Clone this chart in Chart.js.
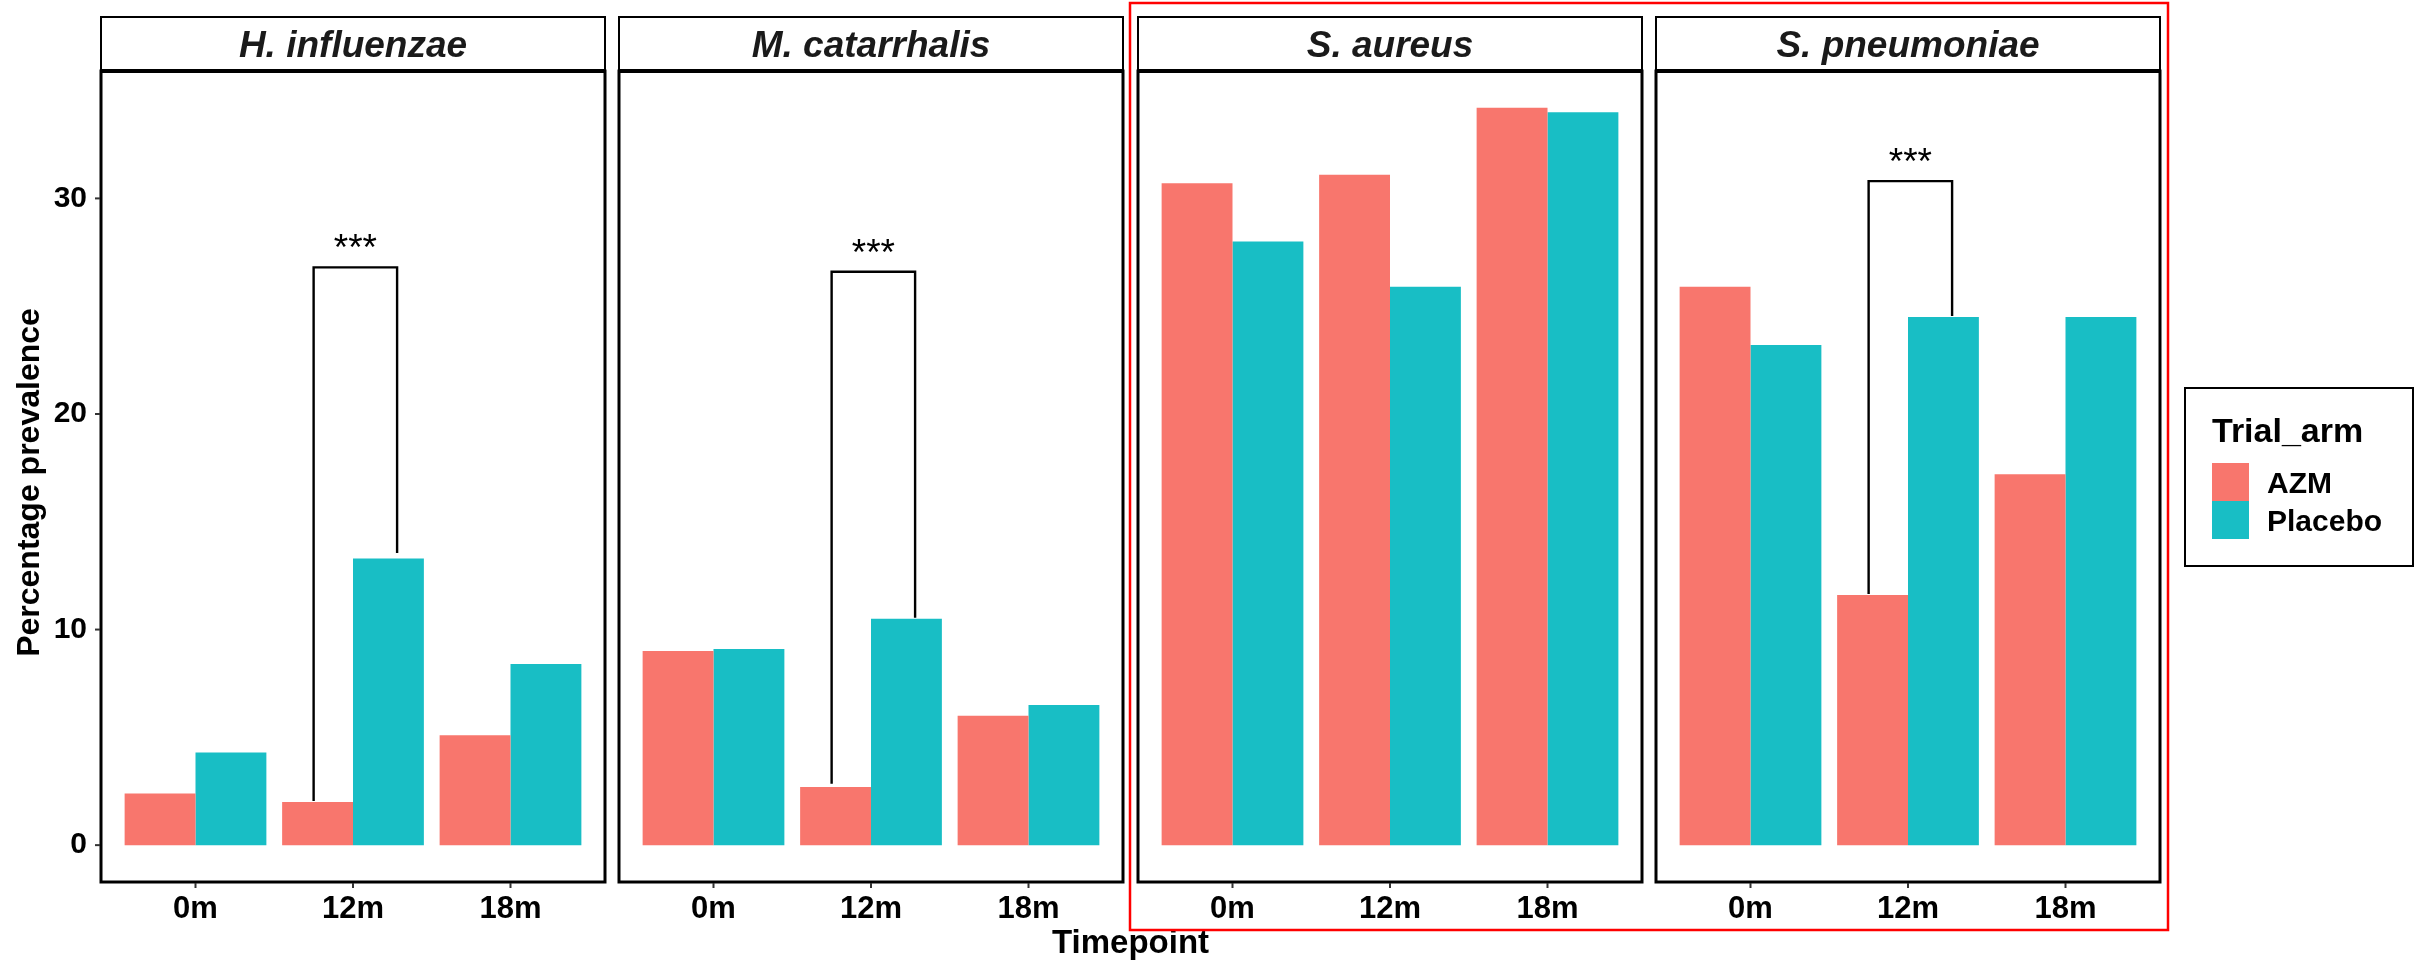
<!DOCTYPE html>
<html><head><meta charset="utf-8">
<script src="https://cdn.jsdelivr.net/npm/chart.js@4.4.1/dist/chart.umd.min.js"></script>
<style>
html,body{margin:0;padding:0;background:#fff;}
#wrap{position:relative;width:2420px;height:962px;overflow:hidden;background:#fff;}
#wrap canvas{position:absolute;left:0;top:0;}
</style></head><body>
<div id="wrap">
<canvas id="c0" width="2420" height="962"></canvas>
<canvas id="c1" width="2420" height="962"></canvas>
<canvas id="c2" width="2420" height="962"></canvas>
<canvas id="c3" width="2420" height="962"></canvas>
</div>
<script>
// ---- data ----
const timepoints = ['0m', '12m', '18m'];
const species = ['H. influenzae', 'M. catarrhalis', 'S. aureus', 'S. pneumoniae'];
const armLabels = ['AZM', 'Placebo'];
const yTickValues = [0, 10, 20, 30];

const azmHinf = [2.4, 2.0, 5.1];
const placeboHinf = [4.3, 13.3, 8.4];
const azmMcat = [9.0, 2.7, 6.0];
const placeboMcat = [9.1, 10.5, 6.5];
const azmSaur = [30.7, 31.1, 34.2];
const placeboSaur = [28.0, 25.9, 34.0];
const azmSpn = [25.9, 11.6, 17.2];
const placeboSpn = [23.2, 24.5, 24.5];

// significance brackets (per panel, null = none)
const sigLabel = '***';
const sigTop = [26.8, 26.6, null, 30.8];
const sigLeftEnd = [2.05, 2.85, null, 11.65];
const sigRightEnd = [13.55, 10.55, null, 24.55];
const sigFrom = 1.75;
const sigTo = 2.28;

// ---- styling / layout ----
const FONT = "'Liberation Sans', Arial, Helvetica, sans-serif";
const AZM_COLOR = '#F8766D';
const PLACEBO_COLOR = '#18BEC5';
const PANEL_LEFT = [101, 619, 1138, 1656];
const PANEL_W = 504;
const PLOT_TOP = 71, PLOT_BOTTOM = 882, STRIP_TOP = 17;
const W = 2420, H = 962;

const azmSeries = [azmHinf, azmMcat, azmSaur, azmSpn];
const placeboSeries = [placeboHinf, placeboMcat, placeboSaur, placeboSpn];
const dataMax = Math.max(...azmSeries.flat(), ...placeboSeries.flat());
const yPad = dataMax * 0.05;

function panelPlugin(i) {
  return {
    id: 'panel' + i,
    afterDatasetsDraw(chart) {
      const ctx = chart.ctx;
      if (sigTop[i] == null) return;
      const xs = chart.scales.x, ys = chart.scales.y;
      const x1 = xs.getPixelForValue(sigFrom), x2 = xs.getPixelForValue(sigTo);
      const yt = ys.getPixelForValue(sigTop[i]);
      const yl = ys.getPixelForValue(sigLeftEnd[i]);
      const yr = ys.getPixelForValue(sigRightEnd[i]);
      ctx.save();
      ctx.strokeStyle = '#000';
      ctx.lineWidth = 2.4;
      ctx.lineJoin = 'miter';
      ctx.beginPath();
      ctx.moveTo(x1, yl); ctx.lineTo(x1, yt); ctx.lineTo(x2, yt); ctx.lineTo(x2, yr);
      ctx.stroke();
      ctx.fillStyle = '#000';
      ctx.font = '37px ' + FONT;
      ctx.textAlign = 'center';
      ctx.textBaseline = 'alphabetic';
      ctx.fillText(sigLabel, (x1 + x2) / 2, yt - 7);
      ctx.restore();
    },
    afterDraw(chart) {
      const ctx = chart.ctx;
      const a = chart.chartArea;
      ctx.save();
      ctx.strokeStyle = '#000';
      // strip
      ctx.lineWidth = 2;
      ctx.strokeRect(a.left, STRIP_TOP, a.right - a.left, a.top - STRIP_TOP);
      ctx.fillStyle = '#1a1a1a';
      ctx.font = 'italic bold 37px ' + FONT;
      ctx.textAlign = 'center';
      ctx.textBaseline = 'alphabetic';
      ctx.fillText(species[i], (a.left + a.right) / 2, 57);
      // panel border
      ctx.lineWidth = 3;
      ctx.strokeRect(a.left, a.top, a.right - a.left, a.bottom - a.top);
      ctx.lineWidth = 4;
      ctx.beginPath(); ctx.moveTo(a.left - 1, a.top); ctx.lineTo(a.right + 1, a.top); ctx.stroke();
      // tick marks
      ctx.strokeStyle = '#333';
      ctx.lineWidth = 2;
      const xs = chart.scales.x;
      xs.ticks.forEach(t => {
        const px = xs.getPixelForValue(t.value);
        ctx.beginPath(); ctx.moveTo(px, a.bottom + 1); ctx.lineTo(px, a.bottom + 6); ctx.stroke();
      });
      if (i === 0) {
        const ys = chart.scales.y;
        ys.ticks.forEach(t => {
          const py = ys.getPixelForValue(t.value);
          ctx.beginPath(); ctx.moveTo(a.left - 6, py); ctx.lineTo(a.left - 1, py); ctx.stroke();
        });
      }
      ctx.restore();
    }
  };
}

const figurePlugin = {
  id: 'figure',
  afterDraw(chart) {
    const ctx = chart.ctx;
    ctx.save();
    ctx.fillStyle = '#000';
    // y title
    ctx.font = 'bold 32px ' + FONT;
    ctx.textAlign = 'center';
    ctx.textBaseline = 'middle';
    ctx.save();
    ctx.translate(30, (PLOT_TOP + PLOT_BOTTOM) / 2 + 6);
    ctx.rotate(-Math.PI / 2);
    ctx.fillText('Percentage prevalence', 0, 0);
    ctx.restore();
    // x title
    ctx.font = 'bold 33px ' + FONT;
    ctx.textBaseline = 'alphabetic';
    ctx.fillText('Timepoint', (PANEL_LEFT[0] + PANEL_LEFT[3] + PANEL_W) / 2, 953);
    // legend
    ctx.strokeStyle = '#000';
    ctx.lineWidth = 2;
    ctx.strokeRect(2185, 388, 228, 178);
    ctx.textAlign = 'left';
    ctx.font = 'bold 34px ' + FONT;
    ctx.fillText('Trial_arm', 2212, 442);
    ctx.font = 'bold 30px ' + FONT;
    chart.data.datasets.forEach((ds, k) => {
      const top = 463 + k * 38;
      ctx.fillStyle = ds.backgroundColor;
      ctx.fillRect(2212, top, 37, 38);
      ctx.fillStyle = '#000';
      ctx.fillText(ds.label, 2267, top + 19 + 10.7);
    });
    // red highlight box
    ctx.strokeStyle = '#FF0000';
    ctx.lineWidth = 2.5;
    ctx.strokeRect(1130, 3, 2168 - 1130, 930 - 3);
    ctx.restore();
  }
};

function makeChart(i) {
  const canvas = document.getElementById('c' + i);
  const toPts = arr => arr.map((v, k) => ({ x: k + 1, y: v }));
  const plugins = [panelPlugin(i)];
  if (i === 3) plugins.push(figurePlugin);
  return new Chart(canvas, {
    type: 'bar',
    data: {
      datasets: [
        { label: armLabels[0], data: toPts(azmSeries[i]), backgroundColor: AZM_COLOR, borderWidth: 0, categoryPercentage: 0.9, barPercentage: 1.0 },
        { label: armLabels[1], data: toPts(placeboSeries[i]), backgroundColor: PLACEBO_COLOR, borderWidth: 0, categoryPercentage: 0.9, barPercentage: 1.0 }
      ]
    },
    options: {
      responsive: false,
      animation: false,
      devicePixelRatio: 1,
      layout: { padding: { left: i === 0 ? 0 : PANEL_LEFT[i], right: W - PANEL_LEFT[i] - PANEL_W, top: PLOT_TOP, bottom: 0 } },
      plugins: { legend: { display: false }, tooltip: { enabled: false } },
      scales: {
        x: {
          type: 'linear', min: 0.4, max: 3.6, offset: false,
          grid: { display: false, drawTicks: false, offset: false },
          border: { display: false },
          afterBuildTicks: s => { s.ticks = timepoints.map((t, k) => ({ value: k + 1 })); },
          afterFit: s => { s.height = H - PLOT_BOTTOM; },
          ticks: {
            callback: v => timepoints[Math.round(v) - 1],
            font: { family: FONT, size: 31, weight: 'bold' },
            color: '#000', padding: 9, maxRotation: 0, autoSkip: false
          }
        },
        y: {
          display: i === 0,
          min: -yPad, max: dataMax + yPad,
          grid: { display: false, drawTicks: false },
          border: { display: false },
          afterBuildTicks: s => { s.ticks = yTickValues.map(v => ({ value: v })); },
          afterFit: s => { if (i === 0) s.width = PANEL_LEFT[0]; },
          ticks: {
            font: { family: FONT, size: 30, weight: 'bold' },
            color: '#000', padding: 14
          }
        }
      }
    },
    plugins
  });
}

[0, 1, 2, 3].forEach(makeChart);
</script>
</body></html>
